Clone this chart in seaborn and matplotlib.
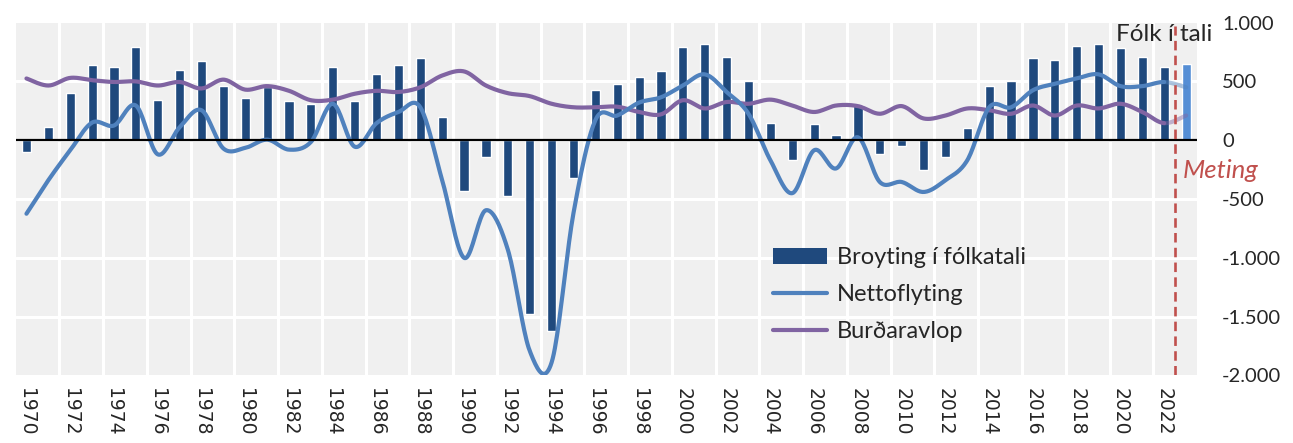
import numpy as np
import pandas as pd
import matplotlib
matplotlib.use("Agg")
import matplotlib.pyplot as plt
import seaborn as sns
from matplotlib.patches import Patch
from matplotlib.lines import Line2D
from matplotlib.ticker import FuncFormatter

# ar
years = list(range(1970, 2024))

# broyting i folkatali (2023 er meting)
broyting = [-100, 110, 405, 640, 625, 795, 345, 600, 670, 465,
            355, 450, 330, 305, 625, 330, 560, 640, 695, 195,
            -430, -145, -475, -1475, -1625, -320, 425, 475, 535, 585,
            790, 820, 710, 505, 150, -170, 140, 45, 300, -120,
            -50, -250, -145, 100, 465, 505, 700, 685, 805, 820,
            780, 710, 625, 645]

# nettoflyting
netto = [-625, -340, -85, 150, 125, 295, -120, 110, 255, -70,
         -65, 5, -80, -15, 310, -55, 145, 240, 280, -340,
         -1000, -595, -930, -1790, -1890, -620, 170, 210, 320, 365,
         465, 560, 410, 225, -170, -450, -85, -240, 25, -355,
         -355, -440, -340, -170, 280, 280, 425, 480, 525, 560,
         460, 460, 495, 450]

# burdaravlop
burd = [525, 465, 530, 510, 495, 500, 465, 495, 440, 515,
        430, 460, 420, 340, 345, 395, 420, 410, 450, 550,
        585, 465, 400, 375, 310, 280, 280, 285, 240, 220,
        340, 270, 325, 310, 345, 295, 240, 295, 290, 225,
        290, 185, 210, 270, 255, 225, 295, 210, 295, 270,
        310, 240, 145, 210]

slag = ["Hagtøl"] * 53 + ["Meting"]

df = pd.DataFrame({"ar": years, "broyting": broyting, "slag": slag})

DARK = "#1F497D"
LIGHT = "#558ED5"
BLUE = "#4F81BD"
PURPLE = "#8064A2"
RED = "#C0504D"


def smooth(x, y, n=20):
    '''
    Catmull-Rom kurva (sum "smoothed line" i Excel)
    '''
    pts = np.column_stack([x, y]).astype(float)
    p = np.vstack([pts[0], pts, pts[-1]])
    t = np.linspace(0, 1, n, endpoint=False)[:, None]
    out = []
    for i in range(1, len(p) - 2):
        p0, p1, p2, p3 = p[i - 1], p[i], p[i + 1], p[i + 2]
        seg = 0.5 * (2 * p1 + (-p0 + p2) * t
                     + (2 * p0 - 5 * p1 + 4 * p2 - p3) * t ** 2
                     + (-p0 + 3 * p1 - 3 * p2 + p3) * t ** 3)
        out.append(seg)
    out.append(pts[-1:])
    return np.vstack(out), n


sns.set_style("white")
plt.rcParams["font.family"] = ["Lato", "DejaVu Sans"]

fig = plt.figure(figsize=(12.93, 4.43), dpi=100)
ax = fig.add_axes([0.012, 0.1524, 0.9138, 0.7966])
ax.set_facecolor("#F0F0F0")

sns.barplot(data=df, x="ar", y="broyting", hue="slag",
            palette={"Hagtøl": DARK, "Meting": LIGHT},
            native_scale=True, width=0.42, dodge=False, legend=False,
            saturation=1, ax=ax, zorder=3)

# linjur
for vals, col in [(burd, PURPLE), (netto, BLUE)]:
    curve, n = smooth(years, vals)
    k = 52 * n
    ax.plot(curve[:k + 1, 0], curve[:k + 1, 1], color=col, lw=3.0,
            solid_capstyle="round", zorder=4)
    ax.plot(curve[k:, 0], curve[k:, 1], color=col, lw=3.0, alpha=0.45,
            solid_capstyle="round", zorder=4)

ax.axhline(0, color="black", lw=1.6, zorder=5)
ax.axvline(2022.5, ymin=0, ymax=0.99, color=RED, lw=1.9,
           dashes=(3.6, 2.0), zorder=6)

ax.set_xlim(1969.5, 2023.5)
ax.set_ylim(-2000, 1000)

# grid
for v in np.arange(-1500, 1000, 500):
    ax.axhline(v, color="white", lw=2.2, zorder=1)
for v in np.arange(1971.5, 2022, 2):
    ax.axvline(v, color="white", lw=2.2, zorder=1)

ax.set_xticks(range(1970, 2023, 2))
ax.set_xticklabels([str(a) for a in range(1970, 2023, 2)], rotation=-90,
                   fontsize=13.5, family="DejaVu Sans")
ax.tick_params(axis="x", length=0, pad=9)

ax.yaxis.tick_right()
ax.set_yticks(np.arange(-2000, 1001, 500))
ax.yaxis.set_major_formatter(FuncFormatter(lambda v, p: f"{int(v):,}".replace(",", ".")))
ax.tick_params(axis="y", length=0, pad=18, labelsize=14.5)
ax.set_xlabel("")
ax.set_ylabel("")
for s in ax.spines.values():
    s.set_visible(False)

ax.text(1.0127, 0.965, "Fólk í tali", transform=ax.transAxes, ha="right",
        va="center", fontsize=17.5, zorder=7)
ax.text(0.988, 0.582, "Meting", transform=ax.transAxes, ha="left",
        va="center", fontsize=18.5, style="italic", color=RED)

handles = [Patch(facecolor=DARK, edgecolor="none"),
           Line2D([], [], color=BLUE, lw=3.0),
           Line2D([], [], color=PURPLE, lw=3.0)]
ax.legend(handles, ["Broyting í fólkatali", "Nettoflyting", "Burðaravlop"],
          loc="center left", bbox_to_anchor=(0.641, 0.229), frameon=False,
          fontsize=17, borderpad=0, borderaxespad=0, handlelength=2.3,
          handletextpad=0.4, labelspacing=0.68)

fig.savefig("out.png", dpi=100)
